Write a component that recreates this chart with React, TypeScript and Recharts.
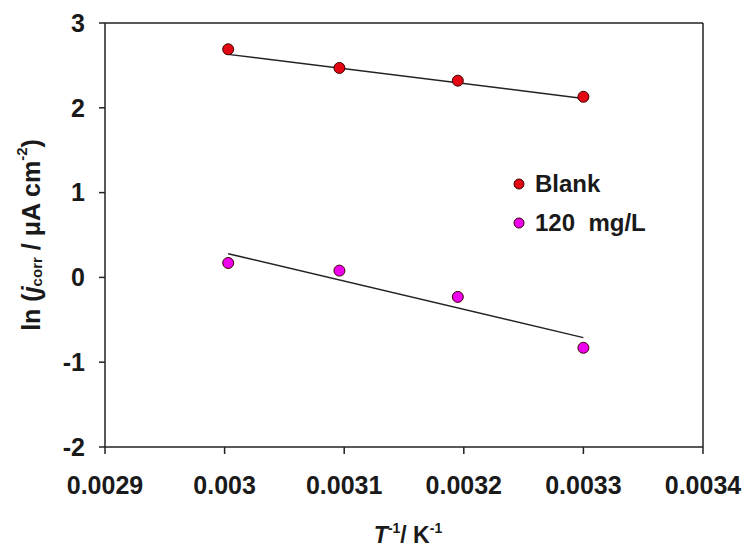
import { ScatterChart, Scatter, XAxis, YAxis, ReferenceLine } from 'recharts'

// 1/T (K^-1) for the four temperatures
const invT = [0.003003, 0.003096, 0.003195, 0.0033]
const blankLn = [2.69, 2.47, 2.32, 2.13]
const inhLn = [0.17, 0.08, -0.23, -0.83]

// fitted lines, end points
const fitX = [0.003003, 0.0033]
const blankFit = [2.63, 2.11]
const inhFit = [0.28, -0.71]

const xTicks = [0.0029, 0.003, 0.0031, 0.0032, 0.0033, 0.0034]
const yTicks = [-2, -1, 0, 1, 2, 3]

const FONT = '"Liberation Sans", Arial, sans-serif'
const RED = '#e30613'
const MAGENTA = '#ee00ee'

const blankData = invT.map((x, i) => ({ x, y: blankLn[i] }))
const inhData = invT.map((x, i) => ({ x, y: inhLn[i] }))
const blankFitData = fitX.map((x, i) => ({ x, y: blankFit[i] }))
const inhFitData = fitX.map((x, i) => ({ x, y: inhFit[i] }))

const tickStyle = { fontFamily: FONT, fontWeight: 'bold', fontSize: 25, fill: '#1a1a1a' }

function Dot(props: any) {
  const { cx, cy, fill } = props
  return <circle cx={cx} cy={cy} r={5.5} fill={fill} stroke="#3a0000" strokeWidth={1} />
}

const noDot = () => <g />

function LegendBox() {
  const items = [
    { label: 'Blank', color: RED },
    { label: '120\u00a0\u00a0mg/L', color: MAGENTA },
  ]
  return (
    <div
      style={{
        position: 'absolute',
        left: 511,
        top: 164,
        fontFamily: FONT,
        fontWeight: 'bold',
        fontSize: 24,
        color: '#1a1a1a',
      }}
    >
      {items.map((it) => (
        <div key={it.label} style={{ display: 'flex', alignItems: 'center', height: 39 }}>
          <svg width={16} height={14} style={{ marginRight: 8 }}>
            <circle cx={8} cy={7} r={5} fill={it.color} stroke="#3a0000" strokeWidth={1} />
          </svg>
          <span>{it.label}</span>
        </div>
      ))}
    </div>
  )
}

function YTitle() {
  return (
    <text
      x={31}
      y={235}
      transform="rotate(-90 31 235)"
      textAnchor="middle"
      dominantBaseline="central"
      style={{ fontFamily: FONT, fontWeight: 'bold', fontSize: 25, fill: '#1a1a1a' }}
    >
      ln (<tspan fontStyle="italic">j</tspan>
      <tspan fontSize={15} dy={5}>corr</tspan>
      <tspan dy={-5}> / μA cm</tspan>
      <tspan fontSize={15} dy={-10}>-2</tspan>
      <tspan dy={10}>)</tspan>
    </text>
  )
}

function XTitle() {
  return (
    <text
      x={408}
      y={543}
      textAnchor="middle"
      style={{ fontFamily: FONT, fontWeight: 'bold', fontSize: 23, fill: '#1a1a1a' }}
    >
      <tspan fontStyle="italic">T</tspan>
      <tspan fontSize={14} dy={-10}>-1</tspan>
      <tspan dy={10}>/ K</tspan>
      <tspan fontSize={14} dy={-10}>-1</tspan>
    </text>
  )
}

export default function App() {
  return (
    <div style={{ position: 'absolute', left: 0, top: 0, width: 747, height: 556, background: '#fff' }}>
      <ScatterChart width={747} height={556} margin={{ top: 23, right: 44, bottom: 0, left: 0 }}>
        <XAxis
          type="number"
          dataKey="x"
          domain={[0.0029, 0.0034]}
          ticks={xTicks}
          tickFormatter={(v: number) => String(v)}
          height={109}
          tickSize={7}
          tickMargin={22}
          stroke="#222"
          strokeWidth={1.5}
          tick={tickStyle}
          label={{ content: () => <XTitle /> }}
        />
        <YAxis
          type="number"
          dataKey="y"
          domain={[-2, 3]}
          ticks={yTicks}
          width={105}
          tickSize={6}
          tickMargin={14}
          stroke="#222"
          strokeWidth={1.5}
          tick={tickStyle}
          label={{ content: () => <YTitle /> }}
        />
        <ReferenceLine y={3} stroke="#222" strokeWidth={1.5} />
        <ReferenceLine x={0.0034} stroke="#222" strokeWidth={1.5} />
        <Scatter
          data={blankFitData}
          line={{ stroke: '#222', strokeWidth: 1.5 }}
          shape={noDot}
          legendType="none"
          isAnimationActive={false}
        />
        <Scatter
          data={inhFitData}
          line={{ stroke: '#222', strokeWidth: 1.5 }}
          shape={noDot}
          legendType="none"
          isAnimationActive={false}
        />
        <Scatter name="Blank" data={blankData} fill={RED} shape={Dot} isAnimationActive={false} />
        <Scatter name="120 mg/L" data={inhData} fill={MAGENTA} shape={Dot} isAnimationActive={false} />
      </ScatterChart>
      <LegendBox />
    </div>
  )
}
